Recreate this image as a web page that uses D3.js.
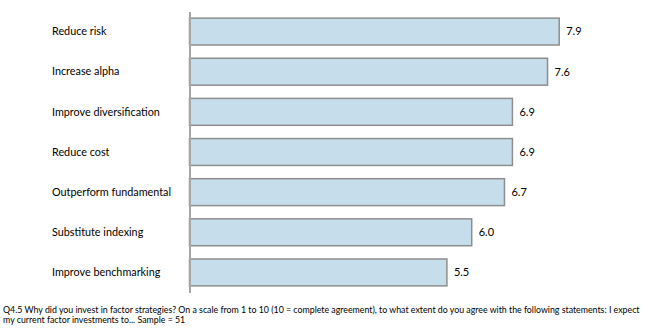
<!DOCTYPE html>
<html>
<head>
<meta charset="utf-8">
<script src="https://cdn.jsdelivr.net/npm/d3@7"></script>
<style>
  html, body { margin: 0; padding: 0; background: #fff; }
  svg { display: block; }
  text { font-family: Lato, "Open Sans", sans-serif; fill: #000; }
</style>
</head>
<body>
<div id="chart"></div>
<script>
const categories = ["Reduce risk", "Increase alpha", "Improve diversification", "Reduce cost", "Outperform fundamental", "Substitute indexing", "Improve benchmarking"];
const values = [7.9, 7.65, 6.9, 6.9, 6.73, 6.03, 5.5];
const valueLabels = ["7.9", "7.6", "6.9", "6.9", "6.7", "6.0", "5.5"];
const footnoteLines = [
  "Q4.5 Why did you invest in factor strategies? On a scale from 1 to 10 (10 = complete agreement), to what extent do you agree with the following statements: I expect",
  "my current factor investments to... Sample = 51"
];

const W = 650, H = 330;
const svg = d3.select("#chart").append("svg").attr("width", W).attr("height", H);

const x = d3.scaleLinear().domain([0, 10]).range([189.5, 189.5 + 10 * 46.8]);
const y = d3.scaleBand().domain(categories).range([11.5, 292.5]).paddingInner(0.33).paddingOuter(0.165);

// bars
svg.append("g").selectAll("rect").data(categories).join("rect")
  .attr("x", x(0))
  .attr("y", d => y(d))
  .attr("width", (d, i) => x(values[i]) - x(0))
  .attr("height", y.bandwidth())
  .attr("fill", "#c6ddec")
  .attr("stroke", "#8e8e8e")
  .attr("stroke-width", 1.5);

// axis line
const yAxis = d3.axisLeft(y).tickSize(0).tickFormat("");
const ax = svg.append("g").attr("transform", `translate(${x(0)},0)`).call(yAxis);
ax.select(".domain").attr("stroke", "#a6a6a6").attr("stroke-width", 2);

// category labels
svg.append("g").selectAll("text").data(categories).join("text")
  .attr("x", 52)
  .attr("y", d => y(d) + y.bandwidth() / 2)
  .attr("dy", "0.35em")
  .attr("font-size", 10.8)
  .text(d => d);

// value labels
svg.append("g").selectAll("text").data(categories).join("text")
  .attr("x", (d, i) => x(values[i]) + 7)
  .attr("y", d => y(d) + y.bandwidth() / 2)
  .attr("dy", "0.35em")
  .attr("font-size", 11)
  .text((d, i) => valueLabels[i]);

// footnote
svg.append("g").selectAll("text").data(footnoteLines).join("text")
  .attr("x", 3)
  .attr("y", (d, i) => 310 + i * 9.5)
  .attr("dy", "0.35em")
  .attr("font-size", 8.8)
  .text(d => d);
</script>
</body>
</html>
